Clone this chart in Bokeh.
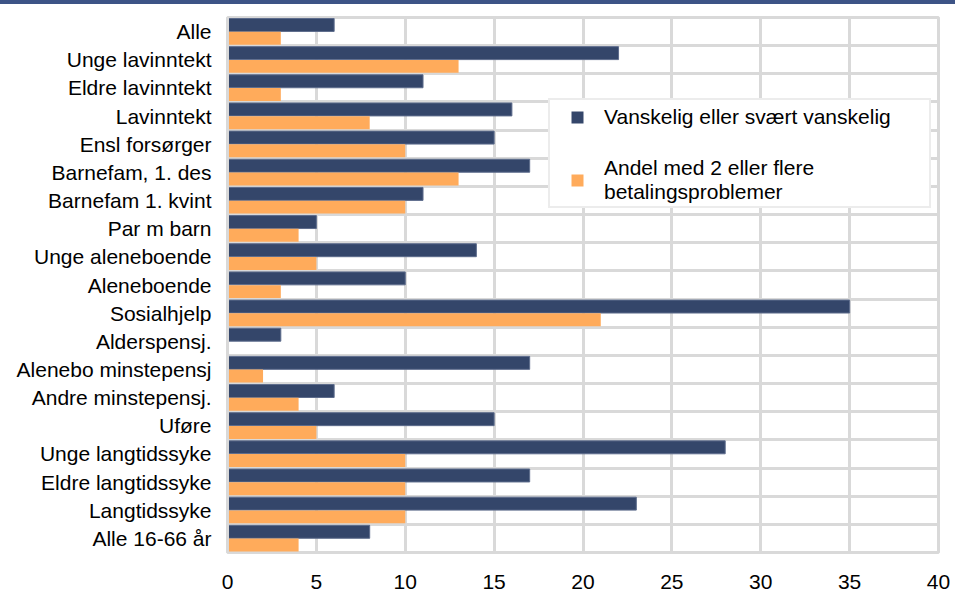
from bokeh.plotting import figure
from bokeh.models import (ColumnDataSource, FixedTicker, Range1d, Legend, LegendItem, Div)
from bokeh.layouts import column
from bokeh.embed import file_html
from bokeh.resources import INLINE

categories = ["Alle", "Unge lavinntekt", "Eldre lavinntekt", "Lavinntekt", "Ensl forsørger",
              "Barnefam, 1. des", "Barnefam 1. kvint", "Par m barn", "Unge aleneboende",
              "Aleneboende", "Sosialhjelp", "Alderspensj.", "Alenebo minstepensj",
              "Andre minstepensj.", "Uføre", "Unge langtidssyke", "Eldre langtidssyke",
              "Langtidssyke", "Alle 16-66 år"]
vanskelig = [6, 22, 11, 16, 15, 17, 11, 5, 14, 10, 35, 3, 17, 6, 15, 28, 17, 23, 8]
betaling = [3, 13, 3, 8, 10, 13, 10, 4, 5, 3, 21, 0, 2, 4, 5, 10, 10, 10, 4]
x_ticks = [0, 5, 10, 15, 20, 25, 30, 35, 40]

N = len(categories)
ypos = [N - 1 - i for i in range(N)]
src = ColumnDataSource(dict(
    y=ypos,
    y_top=[v + 0.235 for v in ypos],
    y_bot=[v - 0.235 for v in ypos],
    v1=vanskelig, v2=betaling))

FONT = "Liberation Sans"
GRID = "#d9d9d9"
DARK = "#34466a"
ORANGE = "#ffab5b"
FS = "21px"

p = figure(width=955, height=587, output_backend="svg", toolbar_location=None,
           x_range=Range1d(0, 40), y_range=Range1d(-0.5, N - 0.5),
           min_border_left=227, min_border_right=17, min_border_top=13, min_border_bottom=38)

r1 = p.hbar(y="y_top", right="v1", left=0, height=0.46, source=src,
            fill_color=DARK, line_color="#5d6c8c", line_width=1)
r2 = p.hbar(y="y_bot", right="v2", left=0, height=0.46, source=src,
            fill_color=ORANGE, line_color=None)
# zero-size square markers, used only as legend keys
k1 = p.scatter(x="v1", y="y_top", size=0, marker="square", source=src,
               fill_color=DARK, line_color=None)
k2 = p.scatter(x="v2", y="y_bot", size=0, marker="square", source=src,
               fill_color=ORANGE, line_color=None)

p.xaxis.ticker = FixedTicker(ticks=x_ticks)
p.xaxis.axis_line_color = None
p.xaxis.major_tick_line_color = None
p.xaxis.minor_tick_line_color = None
p.xaxis.major_label_text_font = FONT
p.xaxis.major_label_text_font_size = FS
p.xaxis.major_label_text_color = "#000000"
p.xaxis.major_label_standoff = 16

p.yaxis.ticker = FixedTicker(ticks=ypos)
p.yaxis.major_label_overrides = {y: c for y, c in zip(ypos, categories)}
p.yaxis.axis_line_color = GRID
p.yaxis.axis_line_width = 3
p.yaxis.major_tick_line_color = None
p.yaxis.minor_tick_line_color = None
p.yaxis.major_label_text_font = FONT
p.yaxis.major_label_text_font_size = FS
p.yaxis.major_label_text_color = "#000000"
p.yaxis.major_label_standoff = 10

p.xgrid.ticker = FixedTicker(ticks=x_ticks)
p.xgrid.grid_line_color = GRID
p.xgrid.grid_line_width = 3
p.ygrid.ticker = FixedTicker(ticks=[k + 0.5 for k in range(-1, N)])
p.ygrid.grid_line_color = GRID
p.ygrid.grid_line_width = 3

p.outline_line_color = GRID
p.outline_line_width = 3
p.background_fill_color = "white"
p.border_fill_color = "white"

legend = Legend(items=[
    LegendItem(label="Vanskelig eller svært vanskelig", renderers=[k1]),
    LegendItem(label="Andel med 2 eller flere\nbetalingsproblemer", renderers=[k2]),
], location=(321, 344))
legend.label_text_font = FONT
legend.label_text_font_size = FS
legend.label_text_color = "#000000"
legend.glyph_width = 50
legend.glyph_height = 30
legend.label_standoff = 2
legend.padding = 2
legend.spacing = 24
legend.border_line_color = GRID
legend.border_line_width = 2
legend.background_fill_alpha = 1
legend.label_width = 323
p.add_layout(legend, "center")

top_line = Div(width=955, height=4, styles={"background-color": "#3d5486", "margin": "0"})
layout = column(top_line, p, spacing=0)

open("out.html", "w").write(file_html(layout, INLINE))
